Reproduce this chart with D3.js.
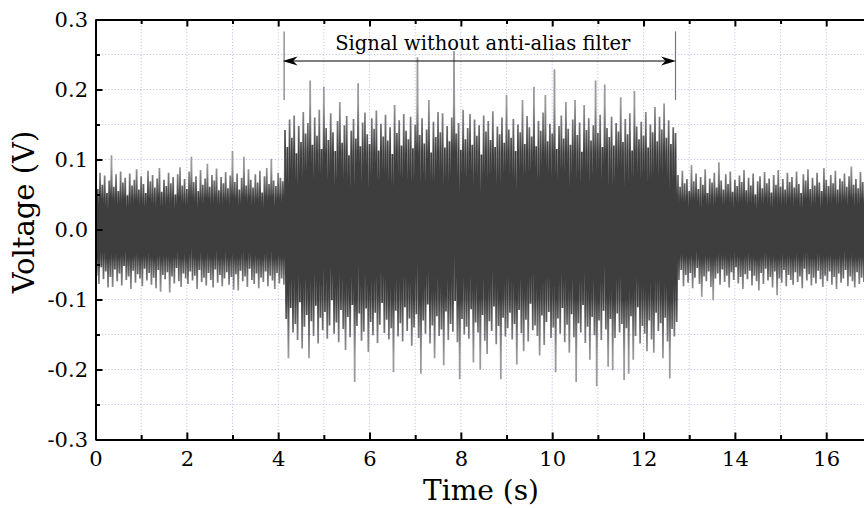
<!DOCTYPE html>
<html><head><meta charset="utf-8">
<script src="https://cdn.jsdelivr.net/npm/d3@7"></script>
<style>html,body{margin:0;padding:0;background:#fff;}svg{display:block;}</style>
</head><body>
<svg id="chart" width="864" height="508"></svg>
<script>
// ---- data ----
const SAMPLE_INTERVAL = 0.05; // s between successive positive peaks
const upperQuiet1 = [0.072,0.058,0.081,0.064,0.077,0.052,0.07,0.106,0.061,0.079,
0.055,0.083,0.067,0.074,0.049,0.08,0.063,0.071,0.086,0.057,
0.076,0.065,0.052,0.084,0.069,0.078,0.06,0.073,0.088,0.054,
0.071,0.062,0.081,0.066,0.075,0.05,0.079,0.089,0.063,0.072,
0.058,0.083,0.104,0.068,0.076,0.055,0.085,0.064,0.073,0.094,
0.061,0.078,0.07,0.087,0.056,0.075,0.066,0.082,0.059,0.077,
0.112,0.068,0.08,0.057,0.074,0.104,0.063,0.086,0.071,0.06,
0.079,0.067,0.084,0.053,0.076,0.088,0.065,0.101,0.07,0.062,
0.081,0.074,0.069];
const lowerQuiet1 = [-0.066,-0.078,-0.054,-0.071,-0.06,-0.083,-0.068,-0.082,-0.057,-0.074,
-0.063,-0.08,-0.052,-0.072,-0.067,-0.085,-0.059,-0.076,-0.064,-0.07,
-0.081,-0.056,-0.073,-0.062,-0.079,-0.069,-0.084,-0.058,-0.089,-0.065,
-0.071,-0.061,-0.09,-0.067,-0.077,-0.055,-0.074,-0.082,-0.063,-0.07,
-0.078,-0.06,-0.073,-0.066,-0.085,-0.058,-0.075,-0.069,-0.08,-0.062,
-0.072,-0.083,-0.057,-0.076,-0.065,-0.081,-0.07,-0.061,-0.079,-0.068,
-0.086,-0.064,-0.087,-0.059,-0.074,-0.067,-0.082,-0.056,-0.072,-0.078,
-0.063,-0.084,-0.069,-0.075,-0.06,-0.081,-0.066,-0.073,-0.085,-0.062,
-0.077,-0.07,-0.079];
const upperActive = [0.142,0.118,0.157,0.131,0.163,0.109,0.148,0.125,0.168,0.137,
0.152,0.213,0.121,0.16,0.134,0.171,0.115,0.204,0.145,0.128,
0.166,0.139,0.112,0.155,0.182,0.124,0.149,0.162,0.106,0.141,
0.158,0.13,0.209,0.119,0.153,0.167,0.136,0.122,0.159,0.144,
0.17,0.113,0.151,0.133,0.164,0.127,0.146,0.108,0.178,0.138,
0.156,0.12,0.165,0.141,0.129,0.161,0.116,0.15,0.246,0.135,
0.159,0.123,0.143,0.185,0.11,0.154,0.132,0.168,0.139,0.166,
0.117,0.148,0.126,0.16,0.255,0.137,0.152,0.114,0.171,0.129,
0.145,0.165,0.121,0.157,0.134,0.149,0.107,0.163,0.14,0.155,
0.128,0.169,0.118,0.147,0.136,0.16,0.124,0.192,0.143,0.131,
0.158,0.112,0.15,0.139,0.185,0.122,0.162,0.146,0.133,0.204,
0.119,0.155,0.141,0.167,0.192,0.126,0.151,0.137,0.229,0.115,
0.148,0.163,0.13,0.182,0.144,0.121,0.157,0.185,0.135,0.153,
0.111,0.178,0.142,0.159,0.127,0.149,0.213,0.138,0.164,0.118,
0.207,0.145,0.132,0.161,0.12,0.152,0.14,0.189,0.125,0.158,
0.136,0.166,0.113,0.198,0.147,0.129,0.154,0.134,0.168,0.117,
0.15,0.139,0.175,0.126,0.161,0.143,0.18,0.131,0.156,0.122,
0.146,0.138];
const lowerActive = [-0.128,-0.184,-0.112,-0.147,-0.135,-0.158,-0.104,-0.17,-0.139,-0.122,
-0.184,-0.131,-0.152,-0.109,-0.163,-0.126,-0.144,-0.118,-0.156,-0.137,
-0.101,-0.149,-0.133,-0.161,-0.115,-0.142,-0.172,-0.125,-0.154,-0.108,
-0.218,-0.138,-0.12,-0.159,-0.146,-0.113,-0.175,-0.132,-0.151,-0.119,
-0.162,-0.136,-0.105,-0.148,-0.129,-0.157,-0.141,-0.204,-0.116,-0.153,
-0.134,-0.16,-0.111,-0.145,-0.127,-0.166,-0.14,-0.121,-0.155,-0.206,
-0.13,-0.149,-0.107,-0.163,-0.137,-0.184,-0.124,-0.152,-0.143,-0.194,
-0.117,-0.158,-0.135,-0.146,-0.102,-0.161,-0.214,-0.128,-0.15,-0.139,
-0.156,-0.114,-0.19,-0.133,-0.147,-0.2,-0.122,-0.159,-0.178,-0.131,
-0.145,-0.11,-0.164,-0.138,-0.214,-0.126,-0.153,-0.141,-0.119,-0.157,
-0.135,-0.193,-0.115,-0.148,-0.174,-0.129,-0.16,-0.106,-0.144,-0.137,
-0.152,-0.18,-0.123,-0.165,-0.132,-0.118,-0.155,-0.14,-0.204,-0.127,
-0.149,-0.112,-0.161,-0.136,-0.176,-0.121,-0.154,-0.218,-0.134,-0.147,
-0.108,-0.162,-0.139,-0.186,-0.125,-0.151,-0.224,-0.13,-0.158,-0.116,
-0.143,-0.196,-0.128,-0.201,-0.155,-0.12,-0.147,-0.135,-0.215,-0.141,
-0.206,-0.124,-0.186,-0.152,-0.111,-0.163,-0.138,-0.149,-0.174,-0.13,
-0.157,-0.176,-0.119,-0.145,-0.134,-0.184,-0.126,-0.16,-0.213,-0.142,
-0.153,-0.132];
const upperQuiet2 = [0.078,0.061,0.084,0.066,0.072,0.055,0.092,0.069,0.08,0.058,
0.075,0.064,0.086,0.052,0.073,0.067,0.081,0.06,0.096,0.07,
0.057,0.079,0.065,0.083,0.054,0.071,0.062,0.077,0.068,0.085,
0.056,0.074,0.063,0.08,0.05,0.069,0.076,0.059,0.082,0.066,
0.073,0.053,0.078,0.064,0.085,0.061,0.072,0.057,0.081,0.068,
0.075,0.06,0.083,0.065,0.052,0.079,0.07,0.086,0.058,0.074,
0.063,0.081,0.067,0.055,0.088,0.071,0.062,0.078,0.066,0.084,
0.057,0.073,0.069,0.08,0.061,0.076,0.09,0.064,0.072,0.059,
0.082,0.068,0.075,0.056,0.079,0.07];
const lowerQuiet2 = [-0.072,-0.058,-0.081,-0.065,-0.076,-0.062,-0.084,-0.069,-0.055,-0.078,
-0.096,-0.067,-0.074,-0.06,-0.082,-0.101,-0.07,-0.063,-0.079,-0.057,
-0.075,-0.066,-0.083,-0.061,-0.072,-0.054,-0.077,-0.068,-0.085,-0.064,
-0.071,-0.059,-0.08,-0.066,-0.074,-0.087,-0.062,-0.078,-0.056,-0.073,
-0.068,-0.083,-0.06,-0.094,-0.07,-0.076,-0.058,-0.081,-0.065,-0.072,
-0.079,-0.061,-0.075,-0.067,-0.084,-0.056,-0.073,-0.064,-0.08,-0.069,
-0.077,-0.059,-0.071,-0.082,-0.066,-0.074,-0.06,-0.079,-0.068,-0.085,
-0.063,-0.076,-0.07,-0.058,-0.081,-0.067,-0.074,-0.083,-0.061,-0.078,
-0.069,-0.075,-0.057,-0.08,-0.066,-0.072];

const timeTicks = [0,2,4,6,8,10,12,14,16];
const timeMinorTicks = [1,3,5,7,9,11,13,15,17];
const voltageTicks = [-0.3,-0.2,-0.1,0.0,0.1,0.2,0.3];
const voltageMinorTicks = [-0.25,-0.15,-0.05,0.05,0.15,0.25];
const annotationLabel = "Signal without anti-alias filter";
const annotationStart = 4.13, annotationEnd = 12.70;

// ---- build series (one segment per regime, sharing the joining point) ----
const segmentsData = [
  {up: upperQuiet1, lo: lowerQuiet1, body: 0.045, tip: 0.09},
  {up: upperActive, lo: lowerActive, body: 0.11, tip: 0.18},
  {up: upperQuiet2, lo: lowerQuiet2, body: 0.045, tip: 0.09}
];
let offset = 0;
const segments = segmentsData.map(s => {
  const pts = [];
  s.up.forEach((u, k) => {
    const i = offset + k;
    pts.push({t: i * SAMPLE_INTERVAL, v: u});
    pts.push({t: i * SAMPLE_INTERVAL + SAMPLE_INTERVAL / 2, v: s.lo[k]});
  });
  offset += s.up.length;
  return {pts, body: s.body, tip: s.tip};
});
// join segments end-to-start
for (let k = 0; k < segments.length - 1; k++) segments[k].pts.push(segments[k + 1].pts[0]);

// ---- layout ----
const svg = d3.select("#chart");
const X0 = 95.5, PX_PER_S = 45.67;
const x = d3.scaleLinear().domain([0, 17]).range([X0, X0 + 17 * PX_PER_S]);
const y = d3.scaleLinear().domain([-0.3, 0.3]).range([439.5, 19.5]);
const serif = "'DejaVu Serif', 'Liberation Serif', serif";
const dark = "#3e3e3e", light = "#9a9a9a";

// grid
const grid = svg.append("g").attr("stroke", "#c2c2ee").attr("stroke-width", 1).attr("stroke-dasharray", "1.2,2");
[...timeTicks, ...timeMinorTicks].filter(d => d > 0).forEach(d => {
  grid.append("line").attr("x1", x(d)).attr("x2", x(d)).attr("y1", y(0.3)).attr("y2", y(-0.3));
});
[...voltageTicks, ...voltageMinorTicks].filter(d => Math.abs(d) < 0.29).forEach(d => {
  grid.append("line").attr("x1", x(0)).attr("x2", 864).attr("y1", y(d)).attr("y2", y(d));
});

// gradients (vertical, user space): dark body, lighter tips
const defs = svg.append("defs");
defs.append("clipPath").attr("id", "plotclip").append("rect")
  .attr("x", x(0)).attr("y", y(0.3)).attr("width", 864 - x(0)).attr("height", y(-0.3) - y(0.3));
const yTop = y(0.3), yBot = y(-0.3);
const off = v => (y(v) - yTop) / (yBot - yTop);
segments.forEach((s, k) => {
  const g = defs.append("linearGradient").attr("id", "grad" + k)
    .attr("gradientUnits", "userSpaceOnUse")
    .attr("x1", 0).attr("x2", 0).attr("y1", yTop).attr("y2", yBot);
  [[s.tip, light], [s.body, dark], [-s.body * 0.9, dark], [-s.tip, light]].forEach(([v, c]) => {
    g.append("stop").attr("offset", off(v)).attr("stop-color", c);
  });
});

// signal
const plot = svg.append("g").attr("clip-path", "url(#plotclip)");
const line = d3.line().x(d => x(d.t)).y(d => y(d.v));
segments.forEach((s, k) => {
  plot.append("path")
    .datum(s.pts)
    .attr("fill", "none")
    .attr("stroke", `url(#grad${k})`)
    .attr("stroke-width", 1.75)
    .attr("stroke-linejoin", "bevel")
    .attr("d", line);
});

// annotation
const ann = svg.append("g");
[annotationStart, annotationEnd].forEach(t => {
  ann.append("line").attr("x1", x(t)).attr("x2", x(t))
    .attr("y1", y(0.283)).attr("y2", y(0.185))
    .attr("stroke", "#777").attr("stroke-width", 1.2);
});
const ay = y(0.2407);
const xa = x(annotationStart) - 1.5, xb = x(annotationEnd) + 0.5;
ann.append("line").attr("x1", xa + 6).attr("x2", xb - 6).attr("y1", ay).attr("y2", ay)
  .attr("stroke", "#000").attr("stroke-width", 1.2);
ann.append("path").attr("fill", "#000")
  .attr("d", `M${xa},${ay} L${xa + 15},${ay - 4.5} L${xa + 10.5},${ay} L${xa + 15},${ay + 4.5} Z`);
ann.append("path").attr("fill", "#000")
  .attr("d", `M${xb},${ay} L${xb - 15},${ay - 4.5} L${xb - 10.5},${ay} L${xb - 15},${ay + 4.5} Z`);
ann.append("text")
  .attr("x", (x(annotationStart) + x(annotationEnd)) / 2 + 3)
  .attr("y", y(0.256))
  .attr("text-anchor", "middle")
  .attr("font-family", serif).attr("font-size", 19.5)
  .text(annotationLabel);

// axes
function styleAxis(g) {
  g.selectAll("path.domain").attr("stroke", "#000").attr("stroke-width", 2);
  g.selectAll(".tick line").attr("stroke", "#000").attr("stroke-width", 2);
  g.selectAll("text").attr("font-family", serif).attr("font-size", 21).attr("fill", "#000");
}
const xb2 = svg.append("g").attr("transform", `translate(0,${y(-0.3)})`)
  .call(d3.axisBottom(x).tickValues(timeTicks).tickSize(-7).tickSizeOuter(0).tickPadding(12).tickFormat(d3.format("d")));
styleAxis(xb2);
const xbm = svg.append("g").attr("transform", `translate(0,${y(-0.3)})`)
  .call(d3.axisBottom(x).tickValues(timeMinorTicks).tickSize(-4.5).tickSizeOuter(0).tickFormat(""));
styleAxis(xbm); xbm.select("path.domain").remove();
const xt = svg.append("g").attr("transform", `translate(0,${y(0.3)})`)
  .call(d3.axisTop(x).tickValues(timeTicks).tickSize(-7).tickSizeOuter(0).tickFormat(""));
styleAxis(xt);
const xtm = svg.append("g").attr("transform", `translate(0,${y(0.3)})`)
  .call(d3.axisTop(x).tickValues(timeMinorTicks).tickSize(-4.5).tickSizeOuter(0).tickFormat(""));
styleAxis(xtm); xtm.select("path.domain").remove();
const yl = svg.append("g").attr("transform", `translate(${x(0)},0)`)
  .call(d3.axisLeft(y).tickValues(voltageTicks).tickSize(-7).tickSizeOuter(0).tickPadding(7.5).tickFormat(d => d.toFixed(1)));
styleAxis(yl);
const ylm = svg.append("g").attr("transform", `translate(${x(0)},0)`)
  .call(d3.axisLeft(y).tickValues(voltageMinorTicks).tickSize(-4.5).tickSizeOuter(0).tickFormat(""));
styleAxis(ylm); ylm.select("path.domain").remove();

// titles
svg.append("text").attr("x", 481).attr("y", 500).attr("text-anchor", "middle")
  .attr("font-family", serif).attr("font-size", 28).text("Time (s)");
svg.append("text").attr("transform", "translate(34,212) rotate(-90)").attr("text-anchor", "middle")
  .attr("font-family", serif).attr("font-size", 29).text("Voltage (V)");
</script>
</body></html>
